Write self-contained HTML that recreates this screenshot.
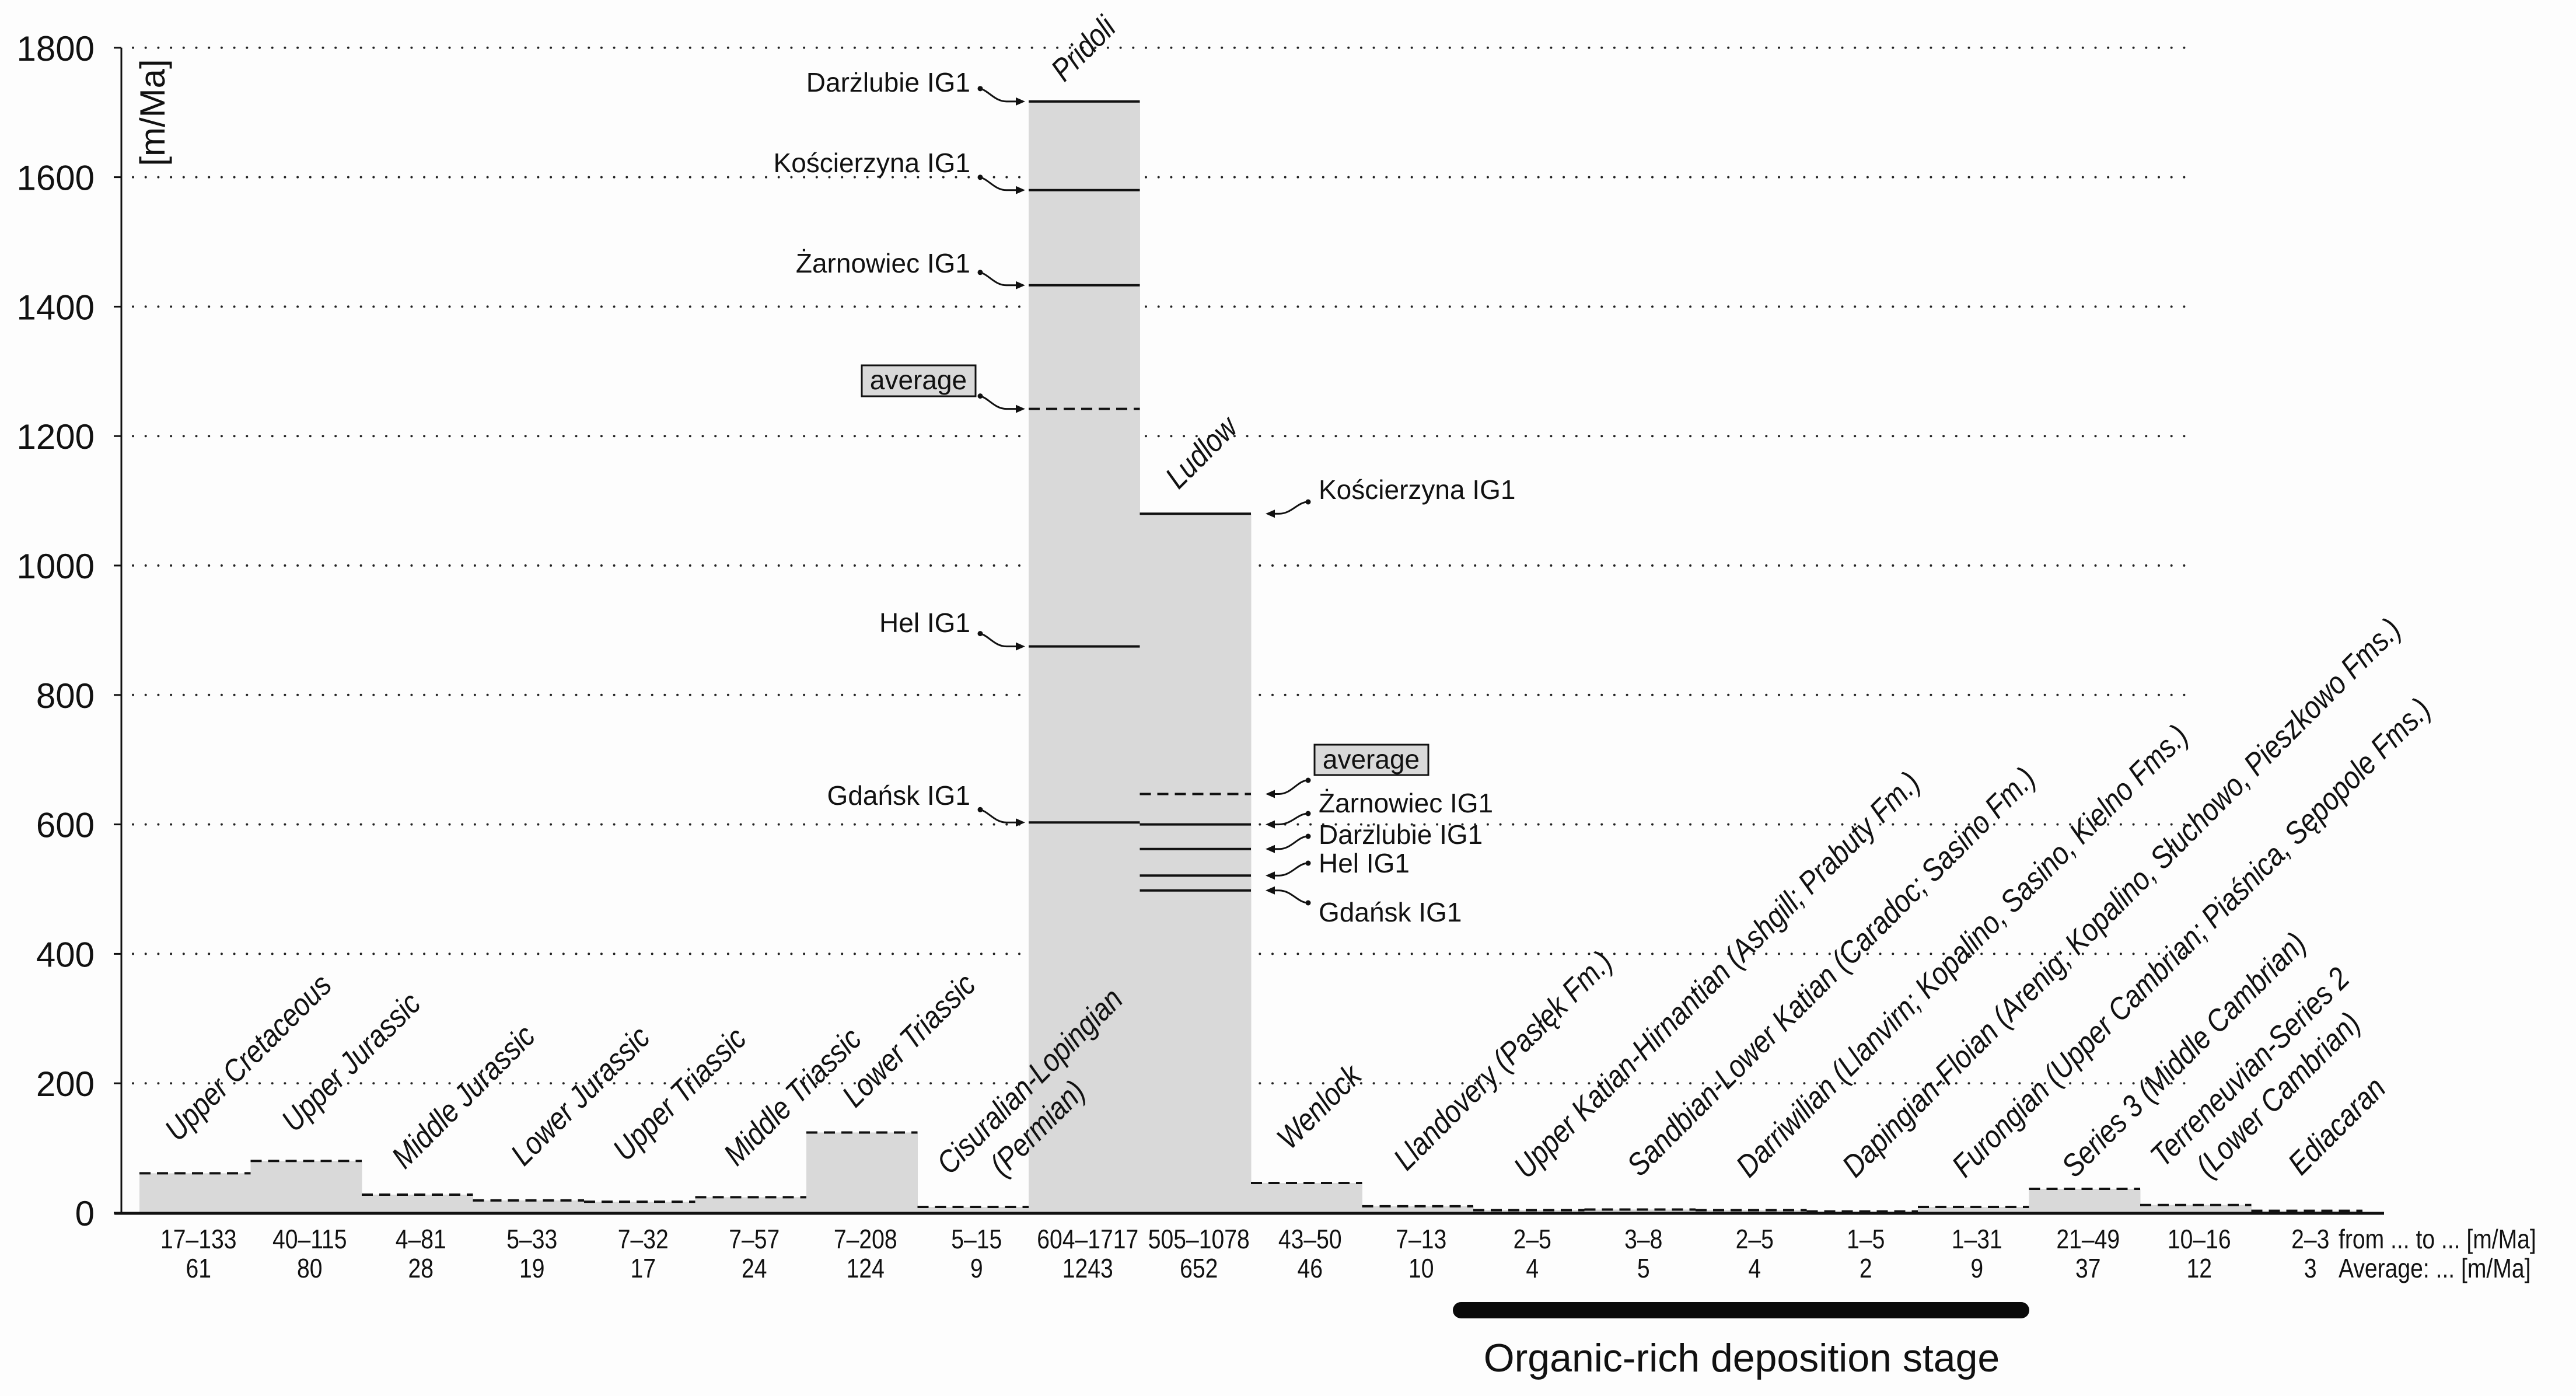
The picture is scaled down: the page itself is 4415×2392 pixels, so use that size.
<!DOCTYPE html>
<html><head><meta charset="utf-8"><style>
html,body{margin:0;padding:0;background:#fdfdfd;}
svg{display:block;font-family:"Liberation Sans",Arial,sans-serif;}
</style></head><body>
<svg id="chart" width="4415" height="2392" viewBox="0 0 4415 2392" xmlns="http://www.w3.org/2000/svg">
<rect x="0" y="0" width="4415" height="2392" fill="#fdfdfd"/>
<g id="grid"></g>
<g id="bars"></g>
<g id="axes"></g>
<g id="labels"></g>
<g id="stations"></g>
<g id="bottom"></g>
</svg>
<script>
// ---- data ----
const intervals = ["Upper Cretaceous","Upper Jurassic","Middle Jurassic","Lower Jurassic","Upper Triassic","Middle Triassic","Lower Triassic","Cisuralian-Lopingian (Permian)","Pridoli","Ludlow","Wenlock","Llandovery (Pasłęk Fm.)","Upper Katian-Hirnantian (Ashgill; Prabuty Fm.)","Sandbian-Lower Katian (Caradoc; Sasino Fm.)","Darriwilian (Llanvirn; Kopalino, Sasino, Kielno Fms.)","Dapingian-Floian (Arenig; Kopalino, Słuchowo, Pieszkowo Fms.)","Furongian (Upper Cambrian; Piaśnica, Sępopole Fms.)","Series 3 (Middle Cambrian)","Terreneuvian-Series 2 (Lower Cambrian)","Ediacaran"];
const rangeLabels = ["17–133","40–115","4–81","5–33","7–32","7–57","7–208","5–15","604–1717","505–1078","43–50","7–13","2–5","3–8","2–5","1–5","1–31","21–49","10–16","2–3"];
const avgLabels = ["61","80","28","19","17","24","124","9","1243","652","46","10","4","5","4","2","9","37","12","3"];
const barHeights = [61,80,28,19,17,24,124,9,1717,1080,46,10,4,5,4,2,9,37,12,3];
const avgLines = [61,80,28,19,17,24,124,9,null,null,46,10,4,5,4,2,9,37,12,3];
const yTicks = [0,200,400,600,800,1000,1200,1400,1600,1800];
const pridoliNames = ["Darżlubie IG1","Kościerzyna IG1","Żarnowiec IG1","average","Hel IG1","Gdańsk IG1"];
const pridoliValues = [1717,1580,1433,1242,875,603];
const ludlowNames = ["Kościerzyna IG1","average","Żarnowiec IG1","Darżlubie IG1","Hel IG1","Gdańsk IG1"];
const ludlowValues = [1080,647,600,562,521,498];

// ---- layout ----
const NS="http://www.w3.org/2000/svg";
const X0=208, Y0=2078, PX=1.109, BAR0=239, SLOT=190.5;
const y = v => Y0 - v*PX;
const xl = i => BAR0 + i*SLOT;
function el(tag, attrs, parent, text){
  const e=document.createElementNS(NS,tag);
  for(const k in attrs) e.setAttribute(k,attrs[k]);
  if(text!==undefined) e.textContent=text;
  parent.appendChild(e); return e;
}
const G=id=>document.getElementById(id);

// grid + ticks
yTicks.forEach(t=>{
  if(t>0){
    const g=el('line',{x1:228,x2:3752,y1:y(t),y2:y(t),stroke:'#222','stroke-width':4,'stroke-dasharray':'0 21.7','stroke-linecap':'round'},G('grid'));
    
    
  }
  const tk=el('line',{x1:195,x2:X0,y1:y(t),y2:y(t),stroke:'#111','stroke-width':3},G('axes'));
  
  
  const tl=el('text',{x:162,y:y(t)+22,'text-anchor':'end','font-size':60,fill:'#111'},G('axes'),String(t));
  
  
});

// bars
barHeights.forEach((v,i)=>{
  const r=el('rect',{x:xl(i),y:y(v),width:SLOT+0.5,height:Y0-y(v),fill:'#d9d9d9'},G('bars'));
  
  
  if(avgLines[i]!==null){
    const d=el('line',{x1:xl(i),x2:xl(i)+SLOT,y1:y(avgLines[i]),y2:y(avgLines[i]),stroke:'#111','stroke-width':4,'stroke-dasharray':'19 11'},G('bars'));
    
    
  }
});

// axes
const ya=el('line',{x1:X0,x2:X0,y1:y(1800),y2:Y0+2,stroke:'#111','stroke-width':3},G('axes'));


const xa=el('line',{x1:X0-12,x2:4086,y1:Y0+1,y2:Y0+1,stroke:'#111','stroke-width':5},G('axes'));


const yt=el('text',{x:0,y:0,'font-size':60,fill:'#111','text-anchor':'middle',transform:'translate(282,193) rotate(-90)'},G('axes'),'[m/Ma]');



// rotated interval labels (anchor positions are layout)
const labelLines = [["Upper Cretaceous"],["Upper Jurassic"],["Middle Jurassic"],["Lower Jurassic"],["Upper Triassic"],["Middle Triassic"],["Lower Triassic"],["Cisuralian-Lopingian","(Permian)"],["Pridoli"],["Ludlow"],["Wenlock"],["Llandovery (Pasłęk Fm.)"],["Upper Katian-Hirnantian (Ashgill; Prabuty Fm.)"],["Sandbian-Lower Katian (Caradoc; Sasino Fm.)"],["Darriwilian (Llanvirn; Kopalino, Sasino, Kielno Fms.)"],["Dapingian-Floian (Arenig; Kopalino, Słuchowo, Pieszkowo Fms.)"],["Furongian (Upper Cambrian; Piaśnica, Sępopole Fms.)"],["Series 3 (Middle Cambrian)"],["Terreneuvian-Series 2","(Lower Cambrian)"],["Ediacaran"]];
const labelAnchors = [[[305,1958]],[[505,1942]],[[694,2005]],[[898,2000]],[[1073,1992]],[[1263,2000]],[[1466,1900]],[[1628,2015],[1719,2018]],[[1824,142]],[[2020,840]],[[2211,1972]],[[2411,2008]],[[2617,2022]],[[2811,2018]],[[2998,2020]],[[3180,2020]],[[3368,2020]],[[3556,2020]],[[3708,2002],[3786,2020]],[[3944,2016]]];
labelLines.forEach((lines,i)=>{
  lines.forEach((t,j)=>{
    const [ax,ay]=labelAnchors[i][j];
    const tx=el('text',{x:0,y:0,'font-size':54,'font-style':'italic',fill:'#111',transform:`translate(${ax},${ay}) rotate(-45) scale(0.86,1)`},G('labels'),t);
    
    
  });
});

// station annotations
const pTextBase=[157,295,467,667,1083,1379];
pridoliNames.forEach((n,i)=>{
  const ly=y(pridoliValues[i]);
  const isAvg=n==='average';
  const ln=el('line',{x1:xl(8),x2:xl(8)+SLOT,y1:ly,y2:ly,stroke:'#111','stroke-width':4,'stroke-dasharray':isAvg?'19 11':'none'},G('stations'));
  
  
  if(isAvg){
    const b=el('rect',{x:1477,y:626,width:195,height:53,fill:'#d9d9d9',stroke:'#111','stroke-width':3},G('stations'));
    
    
  }
  const t=el('text',{x:isAvg?1574:1663,y:pTextBase[i],'text-anchor':isAvg?'middle':'end','font-size':46,fill:'#111'},G('stations'),n);
  
  
  const dx=1680, dy=ly-22, tip=1757;
  const p=el('path',{d:`M${dx} ${dy} C${dx+15} ${dy+4} ${dx+25} ${ly} ${dx+45} ${ly} L${tip-14} ${ly}`,fill:'none',stroke:'#111','stroke-width':3},G('stations'));
  
  
  el('circle',{cx:dx,cy:dy,r:4.5,fill:'#111'},G('stations'));
  el('path',{d:`M${tip} ${ly} L${tip-16} ${ly-7} L${tip-16} ${ly+7} Z`,fill:'#111'},G('stations'));
});
const lTextBase=[855,1317,1392,1446,1495,1579];
const lDotY=[860,1337,1394,1433,1479,1547];
ludlowNames.forEach((n,i)=>{
  const ly=y(ludlowValues[i]);
  const isAvg=n==='average';
  const ln=el('line',{x1:xl(9),x2:xl(9)+SLOT,y1:ly,y2:ly,stroke:'#111','stroke-width':4,'stroke-dasharray':isAvg?'19 11':'none'},G('stations'));
  
  
  if(isAvg){
    const b=el('rect',{x:2253,y:1276,width:195,height:52,fill:'#d9d9d9',stroke:'#111','stroke-width':3},G('stations'));
    
    
  }
  const t=el('text',{x:isAvg?2350:2260,y:lTextBase[i],'text-anchor':isAvg?'middle':'start','font-size':46,fill:'#111'},G('stations'),n);
  
  
  const dx=2242, dy=lDotY[i], tip=2169;
  const p=el('path',{d:`M${dx} ${dy} C${dx-18} ${dy} ${dx-28} ${ly} ${dx-50} ${ly} L${tip+14} ${ly}`,fill:'none',stroke:'#111','stroke-width':3},G('stations'));
  
  
  el('circle',{cx:dx,cy:dy,r:4.5,fill:'#111'},G('stations'));
  el('path',{d:`M${tip} ${ly} L${tip+16} ${ly-7} L${tip+16} ${ly+7} Z`,fill:'#111'},G('stations'));
});

// bottom table
rangeLabels.forEach((r,i)=>{
  const cx=xl(i)+SLOT/2+6;
  const a=el('text',{x:0,y:0,'text-anchor':'middle','font-size':46,fill:'#111',transform:`translate(${cx},2139) scale(0.85,1)`},G('bottom'),r);
  
  
  const b=el('text',{x:0,y:0,'text-anchor':'middle','font-size':46,fill:'#111',transform:`translate(${cx},2189) scale(0.85,1)`},G('bottom'),avgLabels[i]);
  
  
});
const f1=el('text',{x:0,y:0,'font-size':46,fill:'#111',transform:'translate(4008,2139) scale(0.85,1)'},G('bottom'),'from ... to ... [m/Ma]');


const f2=el('text',{x:0,y:0,'font-size':46,fill:'#111',transform:'translate(4008,2189) scale(0.85,1)'},G('bottom'),'Average: ... [m/Ma]');


const sb=el('rect',{x:2490,y:2231,width:988,height:28,rx:14,fill:'#0a0a0a'},G('bottom'));


const st=el('text',{x:2985,y:2350,'text-anchor':'middle','font-size':68,fill:'#111'},G('bottom'),'Organic-rich deposition stage');


</script>
</body></html>
